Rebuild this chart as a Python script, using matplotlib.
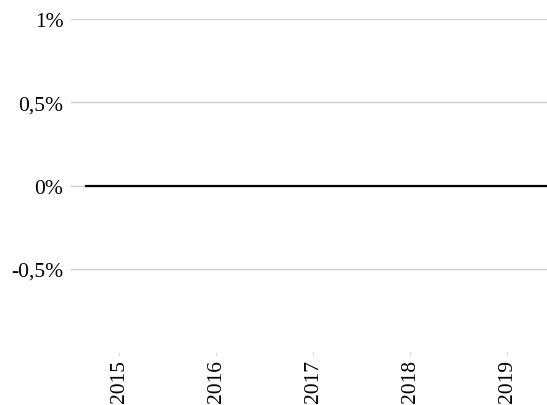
# Flat change line, percent axis with yearly ticks

import matplotlib.pyplot as plt

years = [2015, 2016, 2017, 2018, 2019]
year_labels = ["2015", "2016", "2017", "2018", "2019"]

# the series: flat at zero over the whole period
line_x = [2014.66, 2019.5]
line_y = [0.0, 0.0]

y_ticks = [-0.5, 0.0, 0.5, 1.0]
y_labels = ["-0,5%", "0%", "0,5%", "1%"]

FONT = "Liberation Serif"
plt.rcParams["font.family"] = "serif"
plt.rcParams["font.serif"] = [FONT, "DejaVu Serif"]

fig = plt.figure(figsize=(5.47, 4.06), dpi=100)
ax = fig.add_axes([0.1298, 0.1305, 0.8702, 0.8202])

ax.plot(line_x, line_y, color="black", linewidth=1.6, zorder=3)

ax.set_xlim(2014.505, 2019.41)
ax.set_ylim(-1.0, 1.0)

ax.set_yticks(y_ticks)
ax.set_yticklabels(y_labels, family=FONT, fontsize=15.5)
ax.set_xticks(years)
ax.set_xticklabels(year_labels, rotation=90, family=FONT, fontsize=15.5)

ax.grid(axis="y", color="#d0d0d0", linewidth=1.0)
ax.tick_params(axis="y", length=0, pad=5.5)
ax.tick_params(axis="x", length=3, color="#dddddd", pad=2)

for s in ax.spines.values():
    s.set_visible(False)

fig.savefig("out.png", dpi=100)
